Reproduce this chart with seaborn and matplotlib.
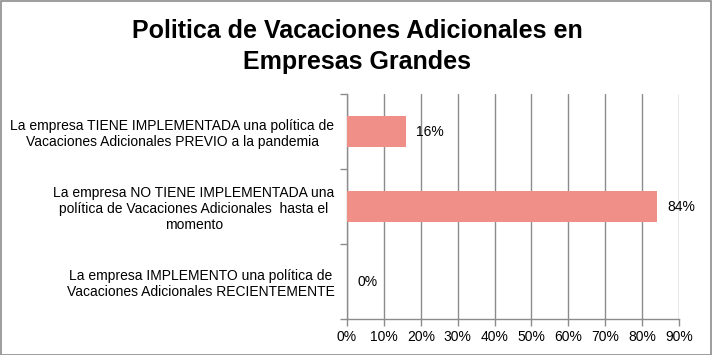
import matplotlib
matplotlib.use("Agg")
import matplotlib.pyplot as plt
import seaborn as sns
import pandas as pd
from matplotlib.patches import Rectangle
from matplotlib.ticker import FixedLocator, NullFormatter

categories = [
    "La empresa TIENE IMPLEMENTADA una política de\nVacaciones Adicionales PREVIO a la pandemia",
    "La empresa NO TIENE IMPLEMENTADA una\npolítica de Vacaciones Adicionales  hasta el\nmomento",
    "La empresa IMPLEMENTO una política de\nVacaciones Adicionales RECIENTEMENTE",
]
values = [0.16, 0.84, 0.00]
value_labels = ["16%", "84%", "0%"]
x_ticks = [0.0, 0.1, 0.2, 0.3, 0.4, 0.5, 0.6, 0.7, 0.8, 0.9]
x_tick_labels = ["0%", "10%", "20%", "30%", "40%", "50%", "60%", "70%", "80%", "90%"]
title = "Politica de Vacaciones Adicionales en\nEmpresas Grandes"

sns.set_theme(style="white")
plt.rcParams["font.family"] = ["Liberation Sans", "DejaVu Sans"]
plt.rcParams["text.color"] = "#000000"

df = pd.DataFrame({"cat": categories, "val": values})

fig = plt.figure(figsize=(7.12, 3.55), dpi=100)
ax = fig.add_axes([347 / 712, 1 - 319 / 355, (679 - 347) / 712, (319 - 94) / 355])

sns.barplot(data=df, x="val", y="cat", orient="h", color="#F08E88",
            saturation=1, width=0.41, ax=ax, zorder=3, linewidth=0)

ax.set_xlim(0, 0.9)
ax.set_ylim(2.5, -0.5)
ax.set_xticks(x_ticks)
ax.set_xticklabels(x_tick_labels, fontsize=10, color="#000000")
ax.set_xlabel("")
ax.set_ylabel("")
ax.xaxis.grid(True, color="#8C8C8C", linewidth=1, zorder=0)
ax.yaxis.grid(False)
for s in ["top", "right"]:
    ax.spines[s].set_visible(False)
for s in ["left", "bottom"]:
    ax.spines[s].set_color("#8C8C8C")
    ax.spines[s].set_linewidth(1)

ax.tick_params(axis="x", which="major", direction="out", length=5, width=1,
               color="#8C8C8C", pad=3, bottom=True)
ax.tick_params(axis="y", which="major", length=0, pad=9)
ax.set_yticks(range(len(categories)))
ax.set_yticklabels(categories, fontsize=10, color="#000000", multialignment="center")
ax.yaxis.set_minor_locator(FixedLocator([-0.5, 0.5, 1.5, 2.5]))
ax.yaxis.set_minor_formatter(NullFormatter())
ax.tick_params(axis="y", which="minor", direction="out", length=5, width=1,
               color="#8C8C8C", left=True)

ax.bar_label(ax.containers[0], labels=value_labels, padding=7.5, fontsize=10,
             color="#000000")

fig.suptitle(title, x=357 / 712, y=1 - 19 / 355, va="top", fontsize=18,
             fontweight="bold", linespacing=1.35, color="#000000")

fig.patches.append(Rectangle((0.5 / 712, 0.5 / 355), 1 - 1.5 / 712, 1 - 1.5 / 355,
                             transform=fig.transFigure, fill=False,
                             edgecolor="#8C8C8C", linewidth=1.2))

fig.savefig("out.png", dpi=100, facecolor="white")
